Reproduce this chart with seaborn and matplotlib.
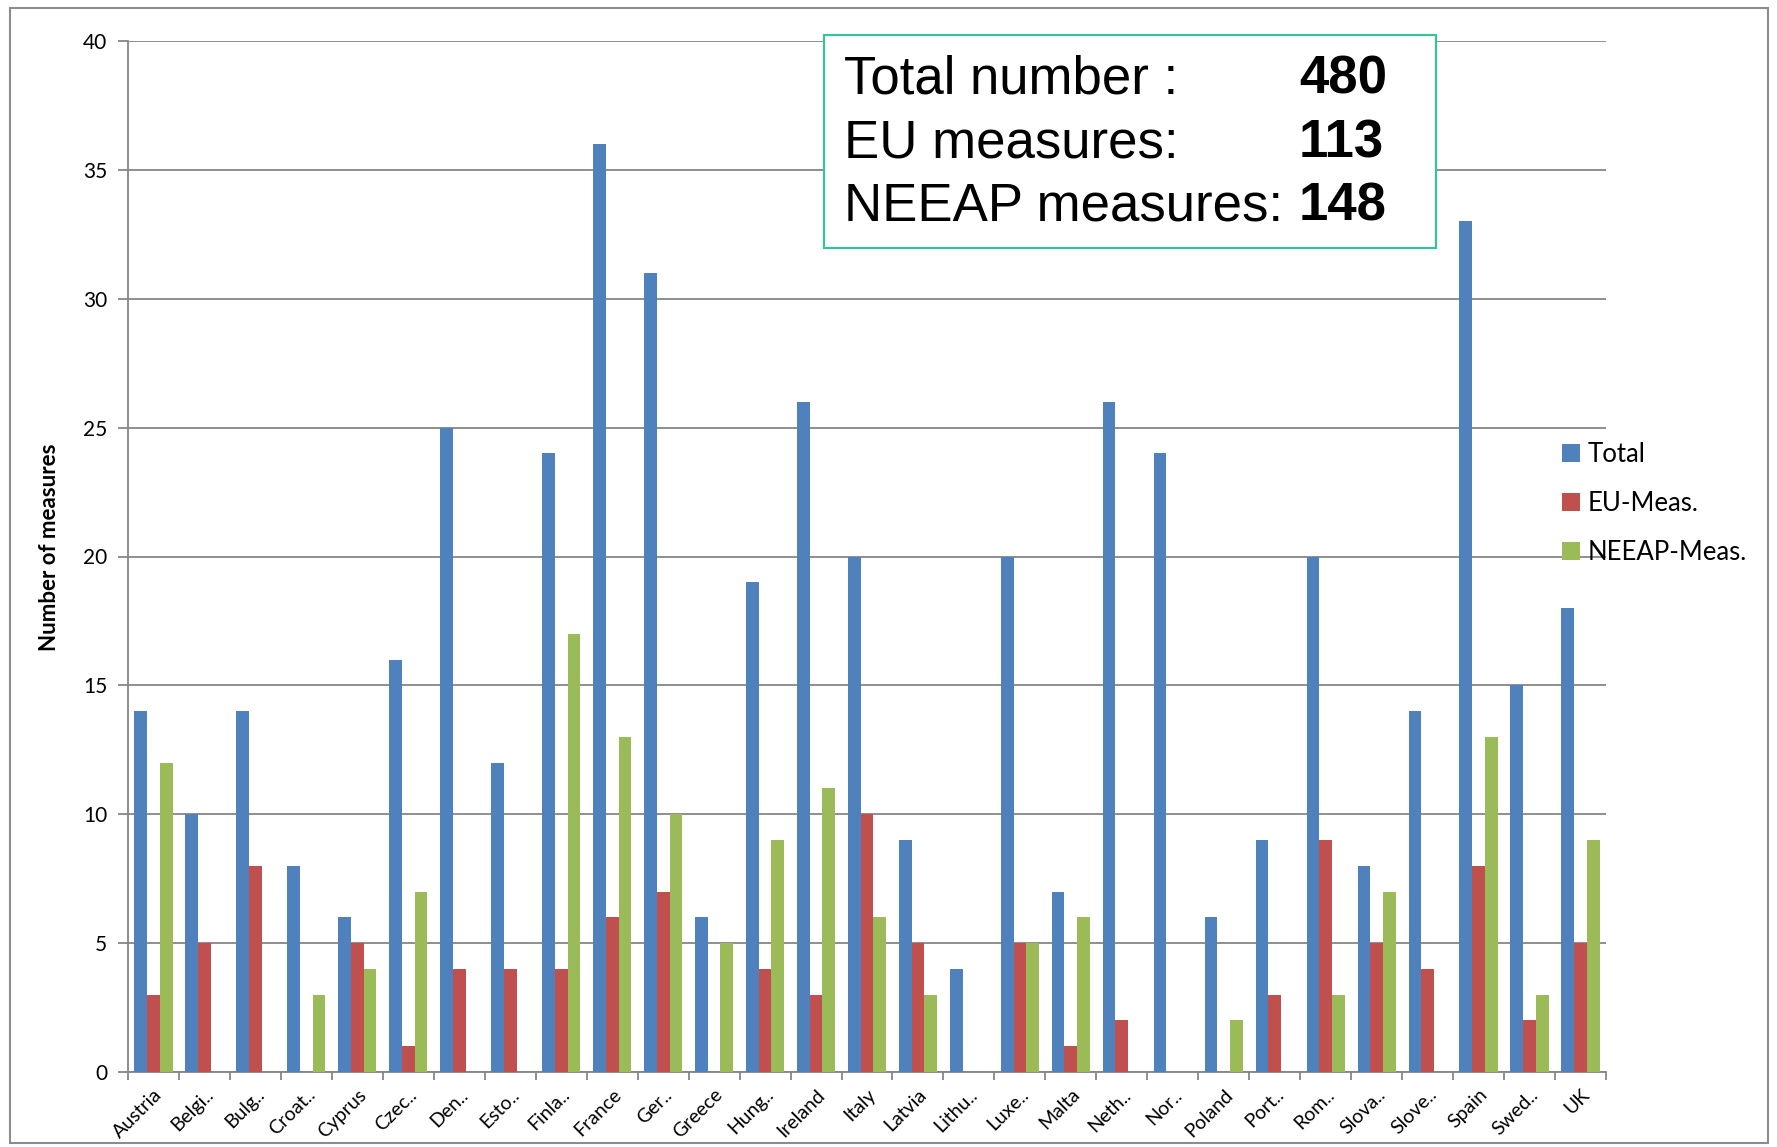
"""
Energy efficiency measures per country - grouped bar chart
"""

import pandas as pd
import numpy as np
import matplotlib
matplotlib.use('Agg')
import matplotlib.pyplot as plt
from matplotlib.patches import Rectangle
import seaborn as sns

# Data
countries = ['Austria', 'Belgi..', 'Bulg..', 'Croat..', 'Cyprus', 'Czec..', 'Den..', 'Esto..',
             'Finla..', 'France', 'Ger..', 'Greece', 'Hung..', 'Ireland', 'Italy', 'Latvia',
             'Lithu..', 'Luxe..', 'Malta', 'Neth..', 'Nor..', 'Poland', 'Port..', 'Rom..',
             'Slova..', 'Slove..', 'Spain', 'Swed..', 'UK']
total = [14, 10, 14, 8, 6, 16, 25, 12, 24, 36, 31, 6, 19, 26, 20, 9, 4, 20, 7, 26, 24, 6, 9, 20,
         8, 14, 33, 15, 18]
eu_meas = [3, 5, 8, 0, 5, 1, 4, 4, 4, 6, 7, 0, 4, 3, 10, 5, 0, 5, 1, 2, 0, 0, 3, 9, 5, 4, 8, 2, 5]
neeap_meas = [12, 0, 0, 3, 4, 7, 0, 0, 17, 13, 10, 5, 9, 11, 6, 3, 0, 5, 6, 0, 0, 2, 0, 3, 7, 0,
              13, 3, 9]
series_names = ['Total', 'EU-Meas.', 'NEEAP-Meas.']
series_colors = ['#4F81BD', '#C0504D', '#9BBB59']
summary_labels = ['Total number :', 'EU measures:', 'NEEAP measures:']
summary_values = ['480', '113', '148']

df = pd.DataFrame({'country': countries, 'Total': total,
                   'EU-Meas.': eu_meas, 'NEEAP-Meas.': neeap_meas})
long_df = df.melt(id_vars='country', var_name='series', value_name='count')

sns.set_style('white')
plt.rcParams['font.family'] = ['Lato', 'DejaVu Sans']
plt.rcParams['text.color'] = 'black'
plt.rcParams['xtick.labelcolor'] = 'black'
plt.rcParams['ytick.labelcolor'] = 'black'

W, H = 1777, 1147
fig = plt.figure(figsize=(W / 100, H / 100), dpi=100)
ax = fig.add_axes([128 / W, 1 - 1072 / H, (1606 - 128) / W, (1072 - 41) / H])

sns.barplot(data=long_df, x='country', y='count', hue='series', hue_order=series_names,
            palette=series_colors, width=0.75, gap=0, saturation=1, errorbar=None,
            linewidth=0, ax=ax, zorder=3)

grid_col = '#868686'
ax.set_ylim(0, 40)
ax.set_xlim(-0.5, len(countries) - 0.5)
ax.set_yticks(np.arange(0, 41, 5))
ax.yaxis.grid(True, color=grid_col, linewidth=1.3, zorder=0)
ax.set_axisbelow(True)
ax.set_xlabel('')
ax.set_ylabel('')
for side in ['top', 'right']:
    ax.spines[side].set_visible(False)
for side in ['left', 'bottom']:
    ax.spines[side].set_color(grid_col)
    ax.spines[side].set_linewidth(1.3)

ax.tick_params(axis='y', labelsize=15, length=7, color=grid_col, width=1.3, pad=8, left=True)
ax.set_xticks(range(len(countries)))
ax.set_xticklabels(countries, rotation=45, ha='right', rotation_mode='anchor', fontsize=14)
ax.tick_params(axis='x', length=0, pad=10)
ax.set_xticks(np.arange(-0.5, len(countries), 1), minor=True)
ax.tick_params(axis='x', which='minor', length=6, color=grid_col, width=1.3, bottom=True)

# legend on the right, overlapping the grid like the original
handles, labels = ax.get_legend_handles_labels()
ax.legend(handles, labels, loc='upper left', bbox_to_anchor=(1552 / W, 1 - 432 / H),
          bbox_transform=fig.transFigure, frameon=False, fontsize=18.5,
          handlelength=0.7, handleheight=0.7, handletextpad=0.3, labelspacing=0.92,
          borderaxespad=0)

# y label
fig.text(50 / W, 1 - 547 / H, 'Number of measures', rotation=90, ha='center', va='center',
         fontsize=16, fontweight='bold')

# summary box
fig.patches.append(Rectangle((824 / W, 1 - 248 / H), (1436 - 824) / W, (248 - 35) / H,
                             transform=fig.transFigure, fill=True, facecolor='white',
                             edgecolor='#2BC99A', linewidth=1.5, zorder=5))
line_y = [79, 143, 206]
for lab, val, yy in zip(summary_labels, summary_values, line_y):
    fig.text(844 / W, 1 - yy / H, lab, ha='left', va='center', fontsize=38,
             family='Liberation Sans', color='black', zorder=6)
    fig.text(1299 / W, 1 - yy / H, val, ha='left', va='center', fontsize=38,
             family='Liberation Sans', fontweight='bold', color='black', zorder=6)

# outer frame
fig.patches.append(Rectangle((10 / W, 1 - 1143 / H), (1768 - 10) / W, (1143 - 8) / H,
                             transform=fig.transFigure, fill=False, edgecolor='#8C8C8C',
                             linewidth=1.5, zorder=0))

fig.savefig('out.png', dpi=100)
plt.close()
